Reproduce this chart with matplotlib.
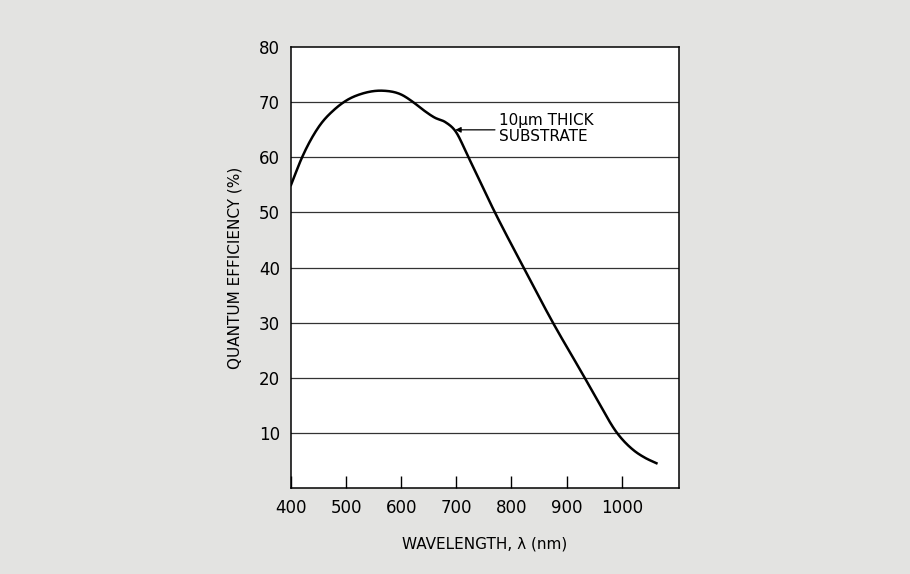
import matplotlib.pyplot as plt
import numpy as np

# wavelength (nm) and quantum efficiency (%)
wl = [400, 420, 450, 480, 500, 530, 567, 600, 622, 640, 661, 680, 698,
      722, 770, 822, 873, 934, 961, 990, 1021, 1042, 1063]
qe = [55, 60, 65.5, 68.8, 70.3, 71.6, 72.1, 71.4, 70, 68.6, 67.2, 66.4,
      64.8, 60, 50, 40, 30.4, 19.8, 15.0, 10.2, 6.9, 5.5, 4.5]

xticks = [400, 500, 600, 700, 800, 900, 1000]
yticks = [10, 20, 30, 40, 50, 60, 70, 80]

bg = '#e3e3e1'


def hermite(x, y, n=30):
    # cubic Hermite in x with centred-difference slopes
    x = np.asarray(x, float)
    y = np.asarray(y, float)
    m = np.gradient(y, x)
    ox, oy = [], []
    t = np.linspace(0, 1, n, endpoint=False)
    for i in range(len(x) - 1):
        h = x[i + 1] - x[i]
        h00 = 2 * t ** 3 - 3 * t ** 2 + 1
        h10 = t ** 3 - 2 * t ** 2 + t
        h01 = -2 * t ** 3 + 3 * t ** 2
        h11 = t ** 3 - t ** 2
        ox.extend(x[i] + h * t)
        oy.extend(h00 * y[i] + h10 * h * m[i] + h01 * y[i + 1]
                  + h11 * h * m[i + 1])
    ox.append(x[-1])
    oy.append(y[-1])
    return ox, oy


fig = plt.figure(figsize=(9.1, 5.74), dpi=100, facecolor=bg)
ax = fig.add_axes([0.3198, 0.1498, 0.4264, 0.768])

xs, ys = hermite(wl, qe)
ax.plot(xs, ys, color='black', lw=1.8, zorder=3)

for y in yticks[:-1]:
    ax.axhline(y, color='#333333', lw=0.9, zorder=1)

ax.set_xlim(400, 1104)
ax.set_ylim(0, 80)
ax.set_xticks(xticks)
ax.set_yticks(yticks)
ax.tick_params(axis='x', direction='in', length=9, width=1, labelsize=12,
               pad=8, top=False)
ax.tick_params(axis='y', length=0, labelsize=12, pad=8)
for s in ax.spines.values():
    s.set_linewidth(1.1)

ax.set_xlabel('WAVELENGTH, λ (nm)', fontsize=11, labelpad=14)
ax.set_ylabel('QUANTUM EFFICIENCY (%)', fontsize=11, labelpad=12)

ax.annotate('', xy=(698, 65.0), xytext=(770, 65.0),
            arrowprops=dict(arrowstyle='-|>', color='black', lw=0.9,
                            mutation_scale=8, shrinkA=0, shrinkB=0))
ax.text(778, 65.2, '10μm THICK\nSUBSTRATE', fontsize=11, va='center',
        ha='left', linespacing=1.1)

fig.savefig('out.png', dpi=100, facecolor=bg)
